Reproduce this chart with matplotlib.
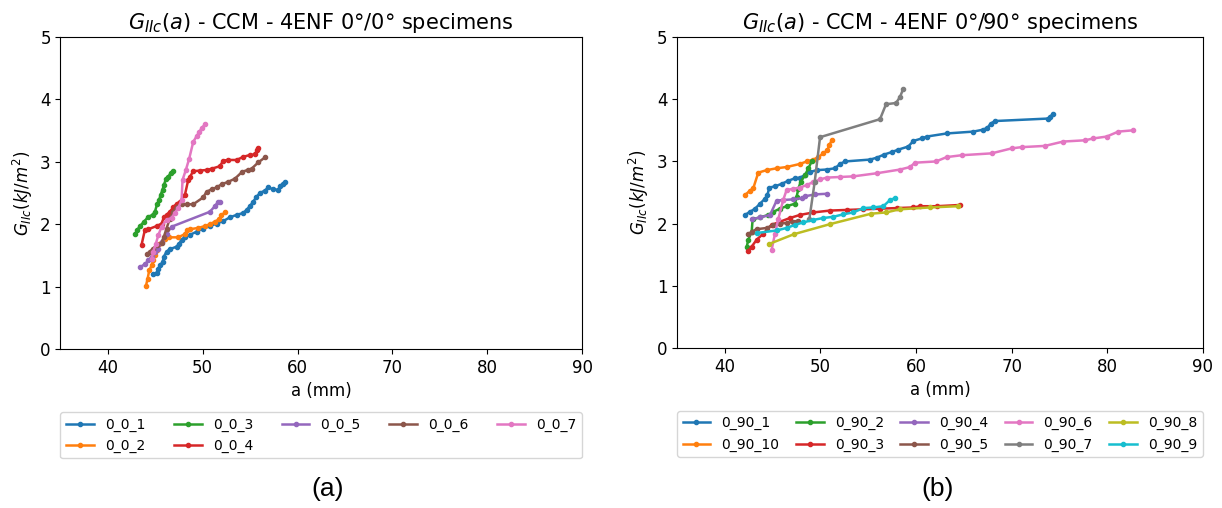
import matplotlib
matplotlib.use('Agg')
import matplotlib.pyplot as plt

# ---- Datos 0/0 (a en mm, G_IIc en kJ/m2) ----
a_0_0_1 = [44.78, 45.13, 45.31, 45.48, 45.76, 45.90, 46.18, 46.53, 47.24, 47.52, 47.77, 48.12, 48.65, 49.35,
           50.05, 50.76, 51.46, 52.16, 52.86, 53.57, 54.27, 54.62, 54.97, 55.32, 55.67, 56.03, 56.55, 56.90,
           57.43, 57.96, 58.13, 58.48, 58.66]
g_0_0_1 = [1.20, 1.22, 1.29, 1.34, 1.39, 1.48, 1.56, 1.60, 1.64, 1.69, 1.75, 1.80, 1.83, 1.88,
           1.93, 1.97, 2.01, 2.05, 2.11, 2.15, 2.18, 2.23, 2.29, 2.36, 2.44, 2.50, 2.54, 2.59,
           2.56, 2.55, 2.61, 2.65, 2.68]

a_0_0_2 = [44.01, 44.19, 44.36, 44.61, 44.78, 44.96, 45.20, 45.41, 45.99, 46.45, 47.40, 48.10, 48.35, 48.63,
           49.51, 50.21, 50.74, 51.27, 51.72, 51.97, 52.32]
g_0_0_2 = [1.01, 1.13, 1.26, 1.34, 1.42, 1.50, 1.59, 1.69, 1.76, 1.79, 1.79, 1.84, 1.90, 1.92,
           1.94, 1.97, 2.00, 2.04, 2.08, 2.14, 2.19]

a_0_0_3 = [42.85, 43.10, 43.38, 43.80, 44.26, 44.71, 44.96, 45.20, 45.41, 45.55, 45.76, 45.90, 46.11, 46.36,
           46.61, 46.89]
g_0_0_3 = [1.84, 1.91, 1.97, 2.04, 2.12, 2.15, 2.20, 2.33, 2.39, 2.47, 2.55, 2.63, 2.72, 2.76,
           2.82, 2.85]

a_0_0_4 = [43.55, 43.90, 44.26, 45.13, 45.66, 45.90, 46.18, 46.53, 46.89, 47.24, 47.59, 48.12, 48.47, 48.65,
           49.00, 49.71, 50.41, 50.94, 51.81, 52.16, 52.69, 53.57, 54.27, 54.97, 55.50, 55.75, 55.88]
g_0_0_4 = [1.67, 1.91, 1.92, 1.97, 2.01, 2.11, 2.15, 2.20, 2.27, 2.33, 2.36, 2.47, 2.71, 2.76,
           2.85, 2.86, 2.87, 2.89, 2.93, 3.02, 3.03, 3.03, 3.08, 3.11, 3.12, 3.19, 3.22]

a_0_0_5 = [43.38, 43.90, 44.26, 44.61, 44.96, 45.31, 45.66, 46.18, 46.71, 50.76, 51.28, 51.63, 51.81]
g_0_0_5 = [1.31, 1.36, 1.42, 1.48, 1.56, 1.61, 1.72, 1.85, 1.96, 2.20, 2.29, 2.36, 2.36]

a_0_0_6 = [44.12, 44.40, 44.78, 45.13, 45.66, 45.90, 46.18, 46.53, 46.89, 47.24, 47.77, 48.29, 49.00, 50.05,
           50.40, 50.93, 51.46, 51.98, 52.69, 53.39, 54.16, 54.73, 55.15, 55.85, 56.55]
g_0_0_6 = [1.52, 1.56, 1.61, 1.67, 1.70, 1.80, 1.93, 2.09, 2.20, 2.28, 2.32, 2.32, 2.32, 2.43,
           2.52, 2.56, 2.59, 2.64, 2.68, 2.73, 2.84, 2.87, 2.89, 2.99, 3.07]

a_0_0_7 = [44.61, 44.78, 45.06, 45.31, 45.66, 46.18, 46.71, 47.06, 47.42, 47.77, 47.87, 48.22, 48.57, 49.00,
           49.35, 49.64, 49.88, 50.23]
g_0_0_7 = [1.45, 1.56, 1.69, 1.82, 1.96, 2.07, 2.10, 2.18, 2.26, 2.39, 2.71, 2.87, 3.05, 3.32,
           3.41, 3.48, 3.54, 3.60]

# ---- Datos 0/90 ----
a_0_90_1 = [42.11, 42.63, 43.16, 43.68, 44.20, 44.45, 44.66, 45.25, 45.95, 46.65, 47.34, 47.86, 48.39, 48.91,
            49.61, 50.65, 51.53, 52.05, 52.57, 55.19, 55.89, 56.64, 57.45, 58.14, 59.19, 59.72, 60.60, 61.11,
            63.20, 65.99, 66.97, 67.46, 67.81, 68.26, 73.84, 74.02, 74.30]
g_0_90_1 = [2.14, 2.19, 2.24, 2.32, 2.40, 2.46, 2.58, 2.60, 2.64, 2.69, 2.73, 2.74, 2.78, 2.83,
            2.86, 2.87, 2.89, 2.96, 3.00, 3.03, 3.06, 3.11, 3.15, 3.19, 3.24, 3.33, 3.37, 3.40,
            3.45, 3.48, 3.51, 3.54, 3.61, 3.65, 3.69, 3.71, 3.77]

a_0_90_10 = [42.11, 42.63, 42.98, 43.50, 44.37, 45.42, 46.46, 47.86, 48.56, 49.26, 49.78, 50.30, 50.72, 50.93,
             51.18]
g_0_90_10 = [2.46, 2.53, 2.57, 2.82, 2.86, 2.89, 2.91, 2.96, 3.00, 3.03, 3.07, 3.13, 3.18, 3.26,
             3.34]

a_0_90_2 = [42.28, 42.46, 42.81, 42.91, 43.68, 44.55, 45.07, 45.76, 46.46, 47.34, 47.51, 47.69, 47.93, 48.39,
            48.74, 49.09]
g_0_90_2 = [1.62, 1.74, 1.87, 2.07, 2.10, 2.14, 2.19, 2.24, 2.28, 2.32, 2.43, 2.56, 2.67, 2.78,
            2.89, 3.00]

a_0_90_3 = [42.46, 42.81, 43.33, 44.03, 44.90, 45.76, 46.81, 47.86, 49.26, 51.00, 52.75, 54.49, 56.23, 57.98,
            59.72, 60.41, 62.16, 64.60]
g_0_90_3 = [1.56, 1.63, 1.74, 1.84, 1.98, 2.03, 2.09, 2.14, 2.18, 2.21, 2.22, 2.23, 2.24, 2.25,
            2.26, 2.28, 2.28, 2.30]

a_0_90_4 = [42.81, 43.68, 44.73, 45.42, 46.11, 47.16, 48.04, 48.39, 49.43, 50.65]
g_0_90_4 = [2.07, 2.10, 2.14, 2.37, 2.38, 2.39, 2.41, 2.44, 2.47, 2.48]

a_0_90_5 = [42.46, 42.81, 43.33, 44.37, 45.07, 45.76, 46.46, 47.16, 47.69]
g_0_90_5 = [1.83, 1.87, 1.91, 1.93, 1.98, 2.00, 2.01, 2.03, 2.05]

a_0_90_6 = [44.90, 45.25, 45.60, 46.11, 46.46, 47.16, 47.86, 48.56, 49.26, 49.96, 50.65, 52.05, 53.44, 55.89,
            58.33, 59.37, 59.89, 62.09, 63.20, 64.77, 67.90, 69.99, 71.04, 73.48, 75.39, 77.66, 78.53, 79.93,
            81.15, 82.65]
g_0_90_6 = [1.58, 1.84, 2.08, 2.38, 2.54, 2.56, 2.58, 2.62, 2.67, 2.71, 2.74, 2.75, 2.76, 2.81,
            2.87, 2.91, 2.98, 3.00, 3.07, 3.10, 3.13, 3.21, 3.23, 3.25, 3.32, 3.34, 3.37, 3.40,
            3.48, 3.50]

a_0_90_7 = [48.84, 49.40, 49.96, 56.23, 56.86, 57.91, 58.33, 58.64]
g_0_90_7 = [2.07, 2.67, 3.39, 3.68, 3.92, 3.94, 4.04, 4.16]

a_0_90_8 = [44.59, 47.23, 50.96, 55.31, 56.88, 58.27, 61.46, 64.39]
g_0_90_8 = [1.67, 1.83, 1.99, 2.16, 2.18, 2.23, 2.26, 2.28]

a_0_90_9 = [43.40, 45.42, 46.46, 47.34, 48.21, 49.26, 50.30, 51.35, 52.40, 53.44, 54.49, 55.54, 56.58, 57.28,
            57.80]
g_0_90_9 = [1.85, 1.89, 1.93, 1.98, 2.02, 2.06, 2.09, 2.11, 2.15, 2.18, 2.25, 2.26, 2.28, 2.38,
            2.41]

series_0_0 = [('0_0_1', a_0_0_1, g_0_0_1), ('0_0_2', a_0_0_2, g_0_0_2), ('0_0_3', a_0_0_3, g_0_0_3),
              ('0_0_4', a_0_0_4, g_0_0_4), ('0_0_5', a_0_0_5, g_0_0_5), ('0_0_6', a_0_0_6, g_0_0_6),
              ('0_0_7', a_0_0_7, g_0_0_7)]
series_0_90 = [('0_90_1', a_0_90_1, g_0_90_1), ('0_90_10', a_0_90_10, g_0_90_10),
               ('0_90_2', a_0_90_2, g_0_90_2), ('0_90_3', a_0_90_3, g_0_90_3),
               ('0_90_4', a_0_90_4, g_0_90_4), ('0_90_5', a_0_90_5, g_0_90_5),
               ('0_90_6', a_0_90_6, g_0_90_6), ('0_90_7', a_0_90_7, g_0_90_7),
               ('0_90_8', a_0_90_8, g_0_90_8), ('0_90_9', a_0_90_9, g_0_90_9)]

titulos = [r'$G_{IIc}(a)$ - CCM - 4ENF 0°/0° specimens',
           r'$G_{IIc}(a)$ - CCM - 4ENF 0°/90° specimens']
etiquetas = ['(a)', '(b)']

fig = plt.figure(figsize=(12.22, 5.08), dpi=100)
ax1 = fig.add_axes([0.0495, 0.313, 0.4268, 0.614])
ax2 = fig.add_axes([0.554, 0.315, 0.4304, 0.612])

for ax, series, titulo in zip([ax1, ax2], [series_0_0, series_0_90], titulos):
    for nombre, a, g in series:
        ax.plot(a, g, marker='.', markersize=6, linewidth=1.8, label=nombre)
    ax.set_xlim(35, 90)
    ax.set_ylim(0, 5)
    ax.set_title(titulo, fontsize=15)
    ax.set_xlabel('a (mm)', fontsize=12)
    ax.set_ylabel(r'$G_{IIc}(kJ/m^2)$', fontsize=12)
    ax.tick_params(labelsize=12)
    # leyenda expandida al ancho del eje, debajo del eje x
    ax.legend(loc='upper left', bbox_to_anchor=(0., -0.202, 1., 0.), mode='expand',
              borderaxespad=0., ncol=5, fontsize=10)

# Etiquetas (a) y (b) debajo de cada panel
fig.text(0.268, 0.037, etiquetas[0], ha='center', va='center', fontsize=19, family='Liberation Sans')
fig.text(0.767, 0.037, etiquetas[1], ha='center', va='center', fontsize=19, family='Liberation Sans')

fig.savefig('out.png', dpi=100)
